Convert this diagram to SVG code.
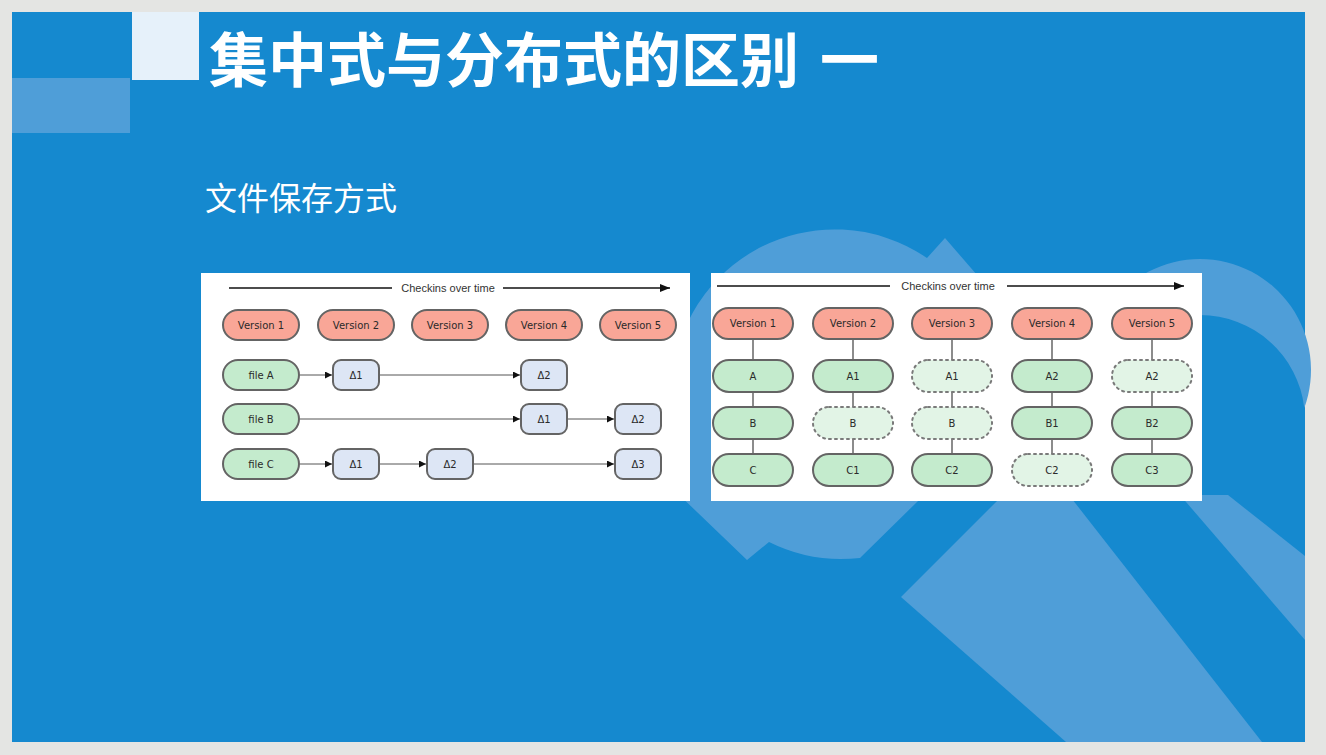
<svg xmlns="http://www.w3.org/2000/svg" width="1326" height="755" viewBox="0 0 1326 755">
  <style>
    .title { font-family: "Noto Sans CJK SC", "Noto Sans", sans-serif; font-weight: 700; fill: #ffffff; }
    .sub { font-family: "Noto Sans CJK SC", "Noto Sans", sans-serif; font-weight: 400; fill: #ffffff; }
    .deco { fill: #4f9ed8; }
    .lbl { font-family: "DejaVu Sans", "Liberation Sans", sans-serif; font-size: 10px; fill: #2a2a2a; text-anchor: middle; dominant-baseline: central; }
    .axis { font-family: "Liberation Sans", "DejaVu Sans", sans-serif; font-size: 11px; fill: #333333; text-anchor: middle; dominant-baseline: central; }
    .ver { fill: #f9a697; stroke: #646464; stroke-width: 2; }
    .file { fill: #c4ebcd; stroke: #646464; stroke-width: 2; }
    .ghost { fill: #e2f4e6; stroke: #7a7a7a; stroke-width: 2; stroke-dasharray: 2 4; stroke-linecap: round; }
    .delta { fill: #dde6f5; stroke: #646464; stroke-width: 2; }
    .link { stroke: #555555; stroke-width: 1; fill: none; }
    .vlink { stroke: #666666; stroke-width: 1.5; fill: none; }
    .timeline { stroke: #111111; stroke-width: 1.5; fill: none; }
  </style>
  <defs>
    <marker id="tip" viewBox="0 0 10 10" refX="10" refY="5" markerWidth="7" markerHeight="7" markerUnits="userSpaceOnUse" orient="auto">
      <path d="M0,0 L10,5 L0,10 Z" fill="#111111"/>
    </marker>
    <marker id="tipBig" viewBox="0 0 10 10" refX="10" refY="5" markerWidth="10" markerHeight="10" markerUnits="userSpaceOnUse" orient="auto">
      <path d="M0,1 L10,5 L0,9 Z" fill="#111111"/>
    </marker>
  </defs>

  <!-- page surround -->
  <rect x="0" y="0" width="1326" height="755" fill="#e4e5e3"/>

  <!-- slide -->
  <g id="slide">
    <rect x="12" y="12" width="1293" height="730" fill="#1589cf"/>
    <!-- decorative ring with arrow tips and its tail -->
    <path class="deco" d="M860,558 A163,163 0 0 1 769,542 L747,560 L672,488 L672,400 A163,163 0 0 1 927,258 L945,238 L990,290 L960,460 L917,502 Z"/>
    <polygon class="deco" points="901,597 1005,493 1065,490 1262,742 1066,742"/>
    <!-- right-hand crescent and its tail -->
    <path class="deco" d="M1095.7,408 A111,111 0 1 1 1304.3,408 A105,105 0 0 0 1095.7,408 Z"/>
    <polygon class="deco" points="1180,495 1228,495 1305,556 1305,640"/>
    <!-- corner blocks -->
    <rect x="12" y="78" width="118" height="55" class="deco"/>
    <rect x="132" y="12" width="67" height="68" fill="#e6f1fa"/>
  </g>

  <g id="title">
    <text class="title" x="209" y="82" font-size="59">集中式与分布式的区别</text>
    <text class="title" x="820" y="82" font-size="59">一</text>
  </g>
  <g id="subtitle">
    <text class="sub" x="205" y="210" font-size="32">文件保存方式</text>
  </g>

  <!-- delta storage diagram -->
  <g id="delta-diagram">
    <rect x="201" y="273" width="489" height="228" fill="#ffffff"/>
    <g id="delta-axis">
      <line class="timeline" x1="229" y1="288" x2="392" y2="288"/>
      <text class="axis" x="448" y="288">Checkins over time</text>
      <line class="timeline" x1="503" y1="288" x2="670" y2="288" marker-end="url(#tipBig)"/>
    </g>
    <g id="delta-connectors">
      <line class="link" x1="300" y1="375" x2="332" y2="375" marker-end="url(#tip)"/>
      <line class="link" x1="380" y1="375" x2="520" y2="375" marker-end="url(#tip)"/>
      <line class="link" x1="300" y1="419" x2="520" y2="419" marker-end="url(#tip)"/>
      <line class="link" x1="568" y1="419" x2="614" y2="419" marker-end="url(#tip)"/>
      <line class="link" x1="300" y1="464" x2="332" y2="464" marker-end="url(#tip)"/>
      <line class="link" x1="380" y1="464" x2="426" y2="464" marker-end="url(#tip)"/>
      <line class="link" x1="474" y1="464" x2="614" y2="464" marker-end="url(#tip)"/>
    </g>
    <g id="d-v1"><rect class="ver" x="223" y="310" width="76" height="30" rx="15"/><text class="lbl" x="261" y="325">Version 1</text></g>
    <g id="d-v2"><rect class="ver" x="318" y="310" width="76" height="30" rx="15"/><text class="lbl" x="356" y="325">Version 2</text></g>
    <g id="d-v3"><rect class="ver" x="412" y="310" width="76" height="30" rx="15"/><text class="lbl" x="450" y="325">Version 3</text></g>
    <g id="d-v4"><rect class="ver" x="506" y="310" width="76" height="30" rx="15"/><text class="lbl" x="544" y="325">Version 4</text></g>
    <g id="d-v5"><rect class="ver" x="600" y="310" width="76" height="30" rx="15"/><text class="lbl" x="638" y="325">Version 5</text></g>

    <g id="d-fileA"><rect class="file" x="223" y="360" width="76" height="30" rx="15"/><text class="lbl" x="261" y="375">file A</text></g>
    <g id="d-fileB"><rect class="file" x="223" y="404" width="76" height="30" rx="15"/><text class="lbl" x="261" y="419">file B</text></g>
    <g id="d-fileC"><rect class="file" x="223" y="449" width="76" height="30" rx="15"/><text class="lbl" x="261" y="464">file C</text></g>

    <g id="d-a1"><rect class="delta" x="333" y="360" width="46" height="30" rx="8"/><text class="lbl" x="356" y="375">Δ1</text></g>
    <g id="d-a2"><rect class="delta" x="521" y="360" width="46" height="30" rx="8"/><text class="lbl" x="544" y="375">Δ2</text></g>
    <g id="d-b1"><rect class="delta" x="521" y="404" width="46" height="30" rx="8"/><text class="lbl" x="544" y="419">Δ1</text></g>
    <g id="d-b2"><rect class="delta" x="615" y="404" width="46" height="30" rx="8"/><text class="lbl" x="638" y="419">Δ2</text></g>
    <g id="d-c1"><rect class="delta" x="333" y="449" width="46" height="30" rx="8"/><text class="lbl" x="356" y="464">Δ1</text></g>
    <g id="d-c2"><rect class="delta" x="427" y="449" width="46" height="30" rx="8"/><text class="lbl" x="450" y="464">Δ2</text></g>
    <g id="d-c3"><rect class="delta" x="615" y="449" width="46" height="30" rx="8"/><text class="lbl" x="638" y="464">Δ3</text></g>
  </g>

  <!-- snapshot storage diagram -->
  <g id="snapshot-diagram">
    <rect x="711" y="273" width="491" height="228" fill="#ffffff"/>
    <g id="snap-axis">
      <line class="timeline" x1="717" y1="286" x2="890" y2="286"/>
      <text class="axis" x="948" y="286" font-size="11.5">Checkins over time</text>
      <line class="timeline" x1="1007" y1="286" x2="1184" y2="286" marker-end="url(#tipBig)"/>
    </g>
    <g id="snap-connectors">
      <line class="vlink" x1="753" y1="339" x2="753" y2="454"/>
      <line class="vlink" x1="853" y1="339" x2="853" y2="454"/>
      <line class="vlink" x1="952" y1="339" x2="952" y2="454"/>
      <line class="vlink" x1="1052" y1="339" x2="1052" y2="454"/>
      <line class="vlink" x1="1152" y1="339" x2="1152" y2="454"/>
    </g>
    <g id="s-v1"><rect class="ver" x="713" y="308" width="80" height="31" rx="15.5"/><text class="lbl" x="753" y="323.5" font-size="10.5">Version 1</text></g>
    <g id="s-v2"><rect class="ver" x="813" y="308" width="80" height="31" rx="15.5"/><text class="lbl" x="853" y="323.5" font-size="10.5">Version 2</text></g>
    <g id="s-v3"><rect class="ver" x="912" y="308" width="80" height="31" rx="15.5"/><text class="lbl" x="952" y="323.5" font-size="10.5">Version 3</text></g>
    <g id="s-v4"><rect class="ver" x="1012" y="308" width="80" height="31" rx="15.5"/><text class="lbl" x="1052" y="323.5" font-size="10.5">Version 4</text></g>
    <g id="s-v5"><rect class="ver" x="1112" y="308" width="80" height="31" rx="15.5"/><text class="lbl" x="1152" y="323.5" font-size="10.5">Version 5</text></g>

    <g id="s-1a"><rect class="file" x="713" y="360" width="80" height="32" rx="16"/><text class="lbl" x="753" y="376">A</text></g>
    <g id="s-1b"><rect class="file" x="713" y="407" width="80" height="32" rx="16"/><text class="lbl" x="753" y="423">B</text></g>
    <g id="s-1c"><rect class="file" x="713" y="454" width="80" height="32" rx="16"/><text class="lbl" x="753" y="470">C</text></g>

    <g id="s-2a"><rect class="file" x="813" y="360" width="80" height="32" rx="16"/><text class="lbl" x="853" y="376">A1</text></g>
    <g id="s-2b"><rect class="ghost" x="813" y="407" width="80" height="32" rx="16"/><text class="lbl" x="853" y="423">B</text></g>
    <g id="s-2c"><rect class="file" x="813" y="454" width="80" height="32" rx="16"/><text class="lbl" x="853" y="470">C1</text></g>

    <g id="s-3a"><rect class="ghost" x="912" y="360" width="80" height="32" rx="16"/><text class="lbl" x="952" y="376">A1</text></g>
    <g id="s-3b"><rect class="ghost" x="912" y="407" width="80" height="32" rx="16"/><text class="lbl" x="952" y="423">B</text></g>
    <g id="s-3c"><rect class="file" x="912" y="454" width="80" height="32" rx="16"/><text class="lbl" x="952" y="470">C2</text></g>

    <g id="s-4a"><rect class="file" x="1012" y="360" width="80" height="32" rx="16"/><text class="lbl" x="1052" y="376">A2</text></g>
    <g id="s-4b"><rect class="file" x="1012" y="407" width="80" height="32" rx="16"/><text class="lbl" x="1052" y="423">B1</text></g>
    <g id="s-4c"><rect class="ghost" x="1012" y="454" width="80" height="32" rx="16"/><text class="lbl" x="1052" y="470">C2</text></g>

    <g id="s-5a"><rect class="ghost" x="1112" y="360" width="80" height="32" rx="16"/><text class="lbl" x="1152" y="376">A2</text></g>
    <g id="s-5b"><rect class="file" x="1112" y="407" width="80" height="32" rx="16"/><text class="lbl" x="1152" y="423">B2</text></g>
    <g id="s-5c"><rect class="file" x="1112" y="454" width="80" height="32" rx="16"/><text class="lbl" x="1152" y="470">C3</text></g>
  </g>
</svg>
